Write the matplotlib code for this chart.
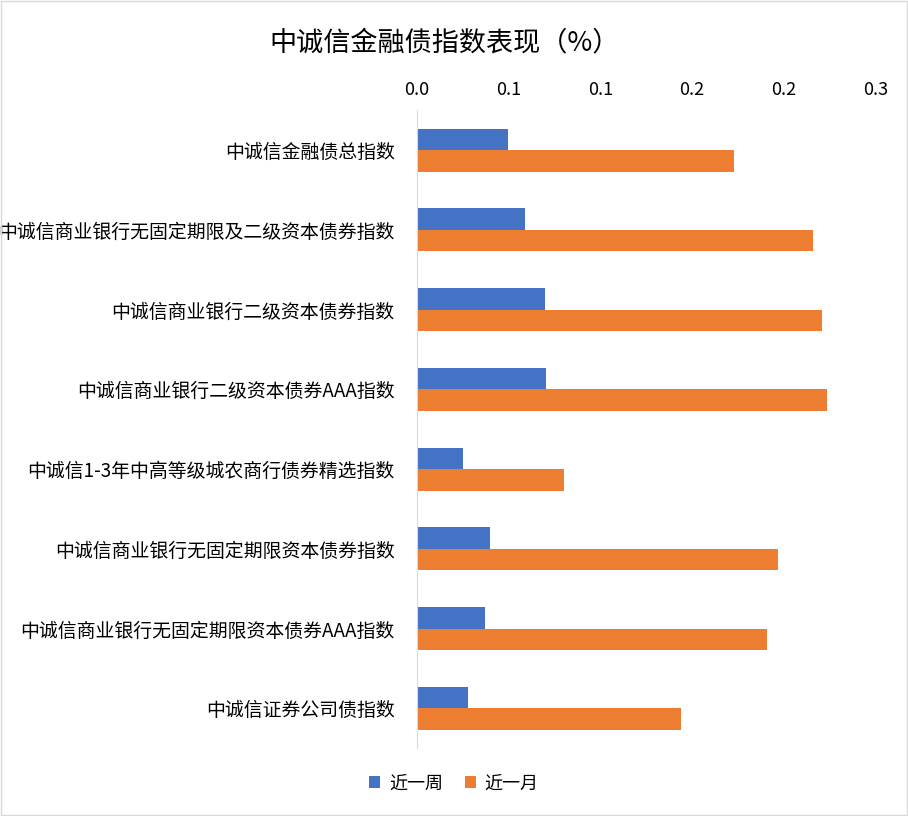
import matplotlib.pyplot as plt
import numpy as np

plt.rcParams['font.family'] = ['Noto Sans CJK SC', 'DejaVu Sans']

categories = ['中诚信金融债总指数', '中诚信商业银行无固定期限及二级资本债券指数', '中诚信商业银行二级资本债券指数',
              '中诚信商业银行二级资本债券AAA指数', '中诚信1-3年中高等级城农商行债券精选指数',
              '中诚信商业银行无固定期限资本债券指数', '中诚信商业银行无固定期限资本债券AAA指数', '中诚信证券公司债指数']
week = [0.0495, 0.059, 0.070, 0.0707, 0.025, 0.040, 0.037, 0.028]
month = [0.173, 0.216, 0.221, 0.2234, 0.080, 0.197, 0.191, 0.144]
ticks = [0, 0.05, 0.10, 0.15, 0.20, 0.25]
tick_labels = ['0.0', '0.1', '0.1', '0.2', '0.2', '0.3']

fig = plt.figure(figsize=(9.08, 8.16), dpi=100)
ax = fig.add_axes([0.459, 0.083, 0.505, 0.782])
y = np.arange(len(categories))
h = 0.27
ax.barh(y - h / 2, week, height=h, color='#4472C4', label='近一周')
ax.barh(y + h / 2, month, height=h, color='#ED7D31', label='近一月')
ax.set_ylim(len(categories) - 0.5, -0.5)
ax.set_xlim(0, 0.25)
ax.set_yticks(y)
ax.set_yticklabels(categories, fontsize=13.6)
ax.set_xticks(ticks)
ax.set_xticklabels(tick_labels, fontsize=13)
ax.xaxis.tick_top()
ax.tick_params(axis='y', length=0, pad=16)
ax.tick_params(axis='x', length=0, pad=8)
for s in ['top', 'right', 'bottom']:
    ax.spines[s].set_visible(False)
ax.spines['left'].set_color('#D9D9D9')
fig.text(0.49, 0.947, '中诚信金融债指数表现（%）', ha='center', va='center', fontsize=19.5)
fig.legend(loc='center', bbox_to_anchor=(0.5, 0.04), ncol=2, frameon=False, fontsize=13,
           handlelength=0.6, handleheight=0.6, handletextpad=0.5, columnspacing=1.2)
fig.patches.append(plt.Rectangle((0.001, 0.001), 0.998, 0.998, transform=fig.transFigure,
                                 fill=False, edgecolor='#D9D9D9', linewidth=1))
fig.savefig('out.png')
